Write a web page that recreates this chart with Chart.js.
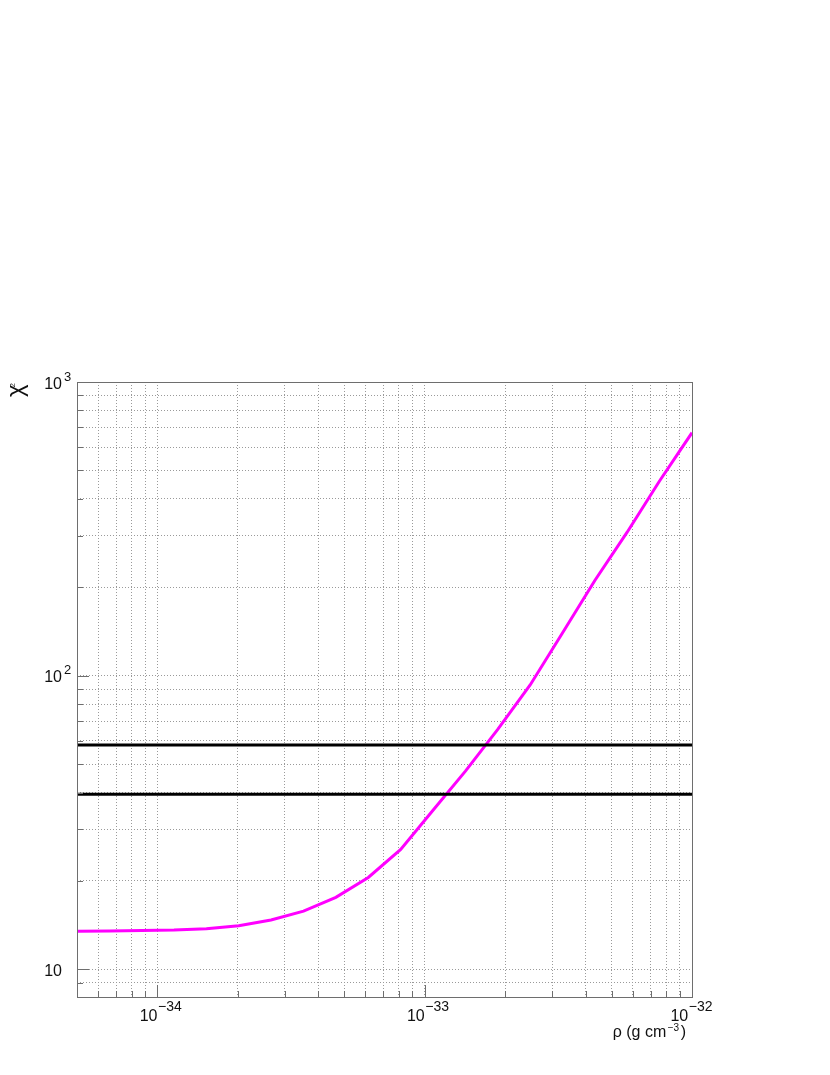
<!DOCTYPE html>
<html>
<head>
<meta charset="utf-8">
<script src="https://cdn.jsdelivr.net/npm/chart.js@4/dist/chart.umd.min.js"></script>
<style>
html,body{margin:0;padding:0;background:#fff;}
canvas{display:block;}
</style>
</head>
<body>
<canvas id="c" width="830" height="1075"></canvas>
<script>
// ---- data ----
const rho = [5.00e-35, 6.61e-35, 8.73e-35, 1.153e-34, 1.524e-34, 2.014e-34, 2.66e-34, 3.52e-34, 4.65e-34, 6.15e-34,
             8.13e-34, 1.074e-33, 1.42e-33, 1.876e-33, 2.48e-33, 3.28e-33, 4.33e-33, 5.72e-33, 7.56e-33, 1.0e-32];
const chi2 = [13.47, 13.50, 13.55, 13.61, 13.75, 14.07, 14.72, 15.78, 17.58, 20.55,
              25.6, 34.8, 47.3, 65.6, 93.0, 140, 211, 308, 460, 672];
const hLines = [58.1, 39.5];
const xRange = [5e-35, 1e-32];
const yRange = [8.05, 1000];
const xGrid = [6e-35, 7e-35, 8e-35, 9e-35,
               1e-34, 2e-34, 3e-34, 4e-34, 5e-34, 6e-34, 7e-34, 8e-34, 9e-34,
               1e-33, 2e-33, 3e-33, 4e-33, 5e-33, 6e-33, 7e-33, 8e-33, 9e-33];
const yGrid = [9, 10, 20, 30, 40, 50, 60, 70, 80, 90, 100, 200, 300, 400, 500, 600, 700, 800, 900];
const xMajor = [1e-34, 1e-33, 1e-32];
const xMajorExp = ['\u221234', '\u221233', '\u221232'];
const yMajor = [10, 100, 1000];
const yMajorExp = ['', '2', '3'];
const xTitle = ['\u03c1 (g cm', '\u22123', ')'];
const yTitle = ['\u03c7', '2'];

const FONT = '"Liberation Sans", Arial, Helvetica, sans-serif';
const isMaj = (v, arr) => arr.some(m => Math.abs(v / m - 1) < 1e-6);

const decor = {
  id: 'decor',
  afterDraw(chart) {
    const {ctx, chartArea: a, scales: {x, y}} = chart;
    ctx.save();
    // frame
    ctx.strokeStyle = '#6e6e6e';
    ctx.lineWidth = 1;
    ctx.strokeRect(Math.round(a.left) + 0.5, Math.round(a.top) + 0.5,
                   Math.round(a.right - a.left), Math.round(a.bottom - a.top));
    // inward ticks
    ctx.beginPath();
    xGrid.concat([1e-32]).forEach(v => {
      const px = Math.round(x.getPixelForValue(v)) + 0.5;
      const len = isMaj(v, xMajor) ? 12 : 6;
      ctx.moveTo(px, a.bottom); ctx.lineTo(px, a.bottom - len);
    });
    yGrid.concat([1000]).forEach(v => {
      const py = Math.round(y.getPixelForValue(v)) + 0.5;
      const len = isMaj(v, yMajor) ? 12 : 6;
      ctx.moveTo(a.left, py); ctx.lineTo(a.left + len, py);
    });
    ctx.stroke();

    ctx.fillStyle = '#111';
    ctx.textBaseline = 'alphabetic';
    // x labels
    xMajor.forEach((v, i) => {
      const px = x.getPixelForValue(v);
      ctx.font = '16px ' + FONT;
      const wb = ctx.measureText('10').width;
      ctx.font = '14px ' + FONT;
      const we = ctx.measureText(xMajorExp[i]).width;
      let start = px - wb;
      const end = start + wb + we;
      const lim = a.right + 20;
      if (end > lim) start -= (end - lim);
      ctx.font = '16px ' + FONT;
      ctx.textAlign = 'left';
      ctx.fillText('10', start, 1021);
      ctx.font = '14px ' + FONT;
      ctx.fillText(xMajorExp[i], start + wb + 0.5, 1011);
    });
    // y labels
    yMajor.forEach((v, i) => {
      const py = y.getPixelForValue(v);
      ctx.font = '16px ' + FONT;
      ctx.textAlign = 'right';
      const rx = a.left - 15;
      ctx.fillText('10', rx, py + 6.5);
      if (yMajorExp[i]) {
        ctx.font = '13px ' + FONT;
        ctx.textAlign = 'left';
        ctx.fillText(yMajorExp[i], rx + 2, py - 1.5);
      }
    });
    // x title (right aligned at plot right)
    ctx.font = '16px ' + FONT;
    const w0 = ctx.measureText(xTitle[0]).width;
    const w2 = ctx.measureText(xTitle[2]).width;
    ctx.font = '10px ' + FONT;
    const w1 = ctx.measureText(xTitle[1]).width;
    const gap = 1.5;
    let sx = a.right - 2 - (w0 + w1 + w2 + 2 * gap) - 4;
    ctx.textAlign = 'left';
    ctx.font = '16px ' + FONT;
    ctx.fillText(xTitle[0], sx, 1037);
    ctx.font = '10px ' + FONT;
    ctx.fillText(xTitle[1], sx + w0 + gap, 1031);
    ctx.font = '16px ' + FONT;
    ctx.fillText(xTitle[2], sx + w0 + w1 + 2 * gap, 1037);
    // y title rotated
    ctx.save();
    ctx.translate(22.5, 397);
    ctx.rotate(-Math.PI / 2);
    ctx.font = '24px ' + FONT;
    ctx.textAlign = 'left';
    ctx.fillText(yTitle[0], 0, 0);
    const wc = ctx.measureText(yTitle[0]).width;
    ctx.font = '8px ' + FONT;
    ctx.fillText(yTitle[1], wc - 3, -8);
    ctx.restore();
    ctx.restore();
  }
};

const gridOpts = () => ({
  display: true, drawTicks: false, color: '#9a9a9a', lineWidth: 1
});

new Chart(document.getElementById('c'), {
  type: 'line',
  data: {
    datasets: [
      { label: 'chi2', data: rho.map((r, i) => ({x: r, y: chi2[i]})),
        borderColor: '#ff00ff', borderWidth: 3, pointRadius: 0, tension: 0, fill: false, order: 2 },
      ...hLines.map((h, k) => ({ label: 'h' + k,
        data: [{x: xRange[0], y: h}, {x: xRange[1], y: h}],
        borderColor: '#000000', borderWidth: 3, pointRadius: 0, fill: false, order: 1 }))
    ]
  },
  options: {
    responsive: false,
    animation: false,
    devicePixelRatio: 1,
    layout: { padding: { left: 77, right: 138, top: 382, bottom: 78 } },
    plugins: { legend: { display: false }, tooltip: { enabled: false } },
    scales: {
      x: {
        type: 'logarithmic', min: xRange[0], max: xRange[1],
        afterBuildTicks: s => { s.ticks = xGrid.map(v => ({value: v})); },
        ticks: { display: false },
        grid: gridOpts(),
        border: { display: false, dash: [1, 2] }
      },
      y: {
        type: 'logarithmic', min: yRange[0], max: yRange[1],
        afterBuildTicks: s => { s.ticks = yGrid.map(v => ({value: v})); },
        ticks: { display: false },
        grid: gridOpts(),
        border: { display: false, dash: [1, 2] }
      }
    }
  },
  plugins: [decor]
});
</script>
</body>
</html>
